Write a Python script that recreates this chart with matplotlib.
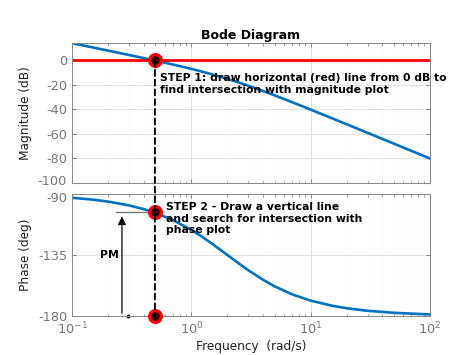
import matplotlib
matplotlib.use("Agg")
import matplotlib.pyplot as plt
from matplotlib.patches import ConnectionPatch
from matplotlib.ticker import LogLocator, NullFormatter
from matplotlib.transforms import ScaledTranslation

# frequency response
freq = [0.1, 0.15, 0.2, 0.3, 0.4, 0.5, 0.7, 1.0, 1.2, 1.5, 2.0, 2.5, 3.0,
        4.0, 5.0, 7.0, 10.0, 15.0, 20.0, 30.0, 50.0, 100.0]
mag_db = [13.97, 10.43, 7.92, 4.34, 1.77, -0.26, -3.42, -6.99, -8.94, -11.48,
          -15.05, -18.07, -20.68, -25.05, -28.60, -34.14, -40.17, -47.12,
          -52.08, -59.10, -67.97, -80.0]
phase_deg = [-92.9, -94.3, -95.7, -98.5, -101.3, -104.0, -109.3, -116.6,
             -121.0, -126.9, -135.0, -141.3, -146.3, -153.4, -158.2, -164.1,
             -168.7, -172.4, -174.3, -176.2, -177.7, -178.9]

w_cross = 0.495
phase_cross = -103.6
w_pm = 0.262
w_dot = 0.294

mag_ticks = [0, -20, -40, -60, -80, -100]
phase_ticks = [-90, -135, -180]

BLUE = "#0072BD"
RED = "#FF0000"
TICK = "#777777"

plt.rcParams["font.family"] = ["DejaVu Sans"]

fig = plt.figure(figsize=(4.74, 3.55), dpi=100)
ax1 = fig.add_axes([0.152, 0.4845, 0.755, 0.394])
ax2 = fig.add_axes([0.152, 0.110, 0.755, 0.344])

for ax in (ax1, ax2):
    ax.set_xscale("log")
    ax.set_xlim(0.1, 100)
    ax.xaxis.set_major_locator(LogLocator(base=10, numticks=10))
    ax.xaxis.set_minor_locator(LogLocator(base=10, subs=range(2, 10), numticks=20))
    ax.grid(True, which="major", color="#dddddd", lw=0.6)
    ax.grid(True, which="minor", color="#eeeeee", lw=0.5, ls=":")
    ax.set_axisbelow(True)
    for s in ax.spines.values():
        s.set_color("#888888")
        s.set_linewidth(0.7)
    ax.tick_params(which="both", direction="in", top=True, right=True,
                   colors="#888888", labelcolor=TICK, labelsize=9.3)
    ax.tick_params(which="major", length=3)
    ax.tick_params(which="minor", length=1.8)

# magnitude
ax1.plot(freq, mag_db, color=BLUE, lw=1.9)
ax1.axhline(0, color=RED, lw=2)
ax1.set_ylim(-100, 14)
ax1.set_yticks(mag_ticks)
ax1.set_yticklabels([str(t) for t in mag_ticks])
ax1.xaxis.set_major_formatter(NullFormatter())
ax1.set_ylabel("Magnitude (dB)", fontsize=8.7, color="#222222")
ax1.set_title("Bode Diagram", fontsize=9, fontweight="bold", pad=3)
ax1.text(0.55, -10.5, "STEP 1: draw horizontal (red) line from 0 dB to\n"
         "find intersection with magnitude plot",
         fontsize=7.8, fontweight="bold", va="top", ha="left",
         linespacing=1.2)

# phase
ax2.plot(freq, phase_deg, color=BLUE, lw=1.9)
ax2.set_ylim(-180, -90)
ax2.set_yticks(phase_ticks)
ax2.set_yticklabels([str(t) for t in phase_ticks])
ax2.set_ylabel("Phase (deg)", fontsize=8.7, color="#222222")
ax2.set_xlabel("Frequency  (rad/s)", fontsize=8.7, color="#222222", labelpad=2)
ax2.text(0.61, -96, "STEP 2 - Draw a vertical line\n"
         "and search for intersection with\nphase plot",
         fontsize=7.8, fontweight="bold", va="top", ha="left",
         linespacing=1.2)

# keep the -100 / -90 labels apart
fig.canvas.draw()
ax1.get_yticklabels()[-1].set_transform(
    ax1.get_yticklabels()[-1].get_transform()
    + ScaledTranslation(0, 2.5 / 72, fig.dpi_scale_trans))
ax2.get_yticklabels()[0].set_transform(
    ax2.get_yticklabels()[0].get_transform()
    + ScaledTranslation(0, -2.5 / 72, fig.dpi_scale_trans))

# PM arrow
ax2.plot([0.232, w_cross], [phase_cross, phase_cross], color="#777777", lw=1)
ax2.annotate("", xy=(w_pm, phase_cross - 1), xytext=(w_pm, -180),
             arrowprops=dict(arrowstyle="-|>", color="black", lw=0.9,
                             mutation_scale=12))
ax2.text(0.205, -135, "PM", fontsize=7.8, fontweight="bold",
         ha="center", va="center")
ax2.plot([w_dot], [-180], marker="o", ms=1.8, color="black", clip_on=False)

# dashed vertical line across both panels
con = ConnectionPatch(xyA=(w_cross, 0), coordsA=ax1.transData,
                      xyB=(w_cross, -180), coordsB=ax2.transData,
                      color="black", lw=1.4, ls=(0, (3, 2)), zorder=5)
fig.add_artist(con)

# intersection markers
mk = dict(marker="o", ms=8.5, mfc="#3a0000", mec=RED, mew=2.3,
          clip_on=False, zorder=6, ls="none")
ax1.plot([w_cross], [0], **mk)
ax2.plot([w_cross], [phase_cross], **mk)
ax2.plot([w_cross], [-180], **mk)

fig.savefig("out.png", dpi=100)
